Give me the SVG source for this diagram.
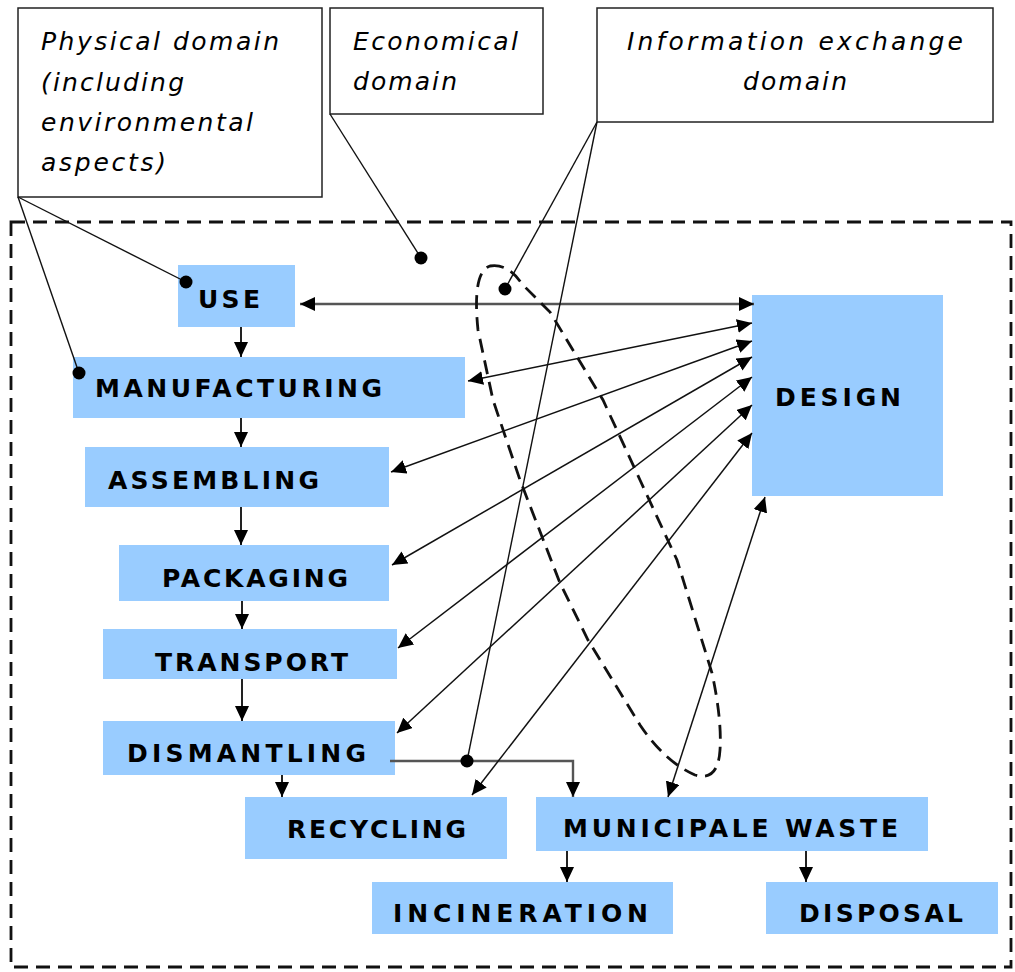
<svg xmlns="http://www.w3.org/2000/svg" width="1015" height="972" viewBox="0 0 1015 972">
<defs>
<style>
.node{fill:#99CCFF;stroke:none}
.lbl{font-family:"DejaVu Sans","Liberation Sans",sans-serif;font-size:25px;font-weight:bold;fill:#000}
.note{font-family:"DejaVu Sans","Liberation Sans",sans-serif;font-style:italic;font-size:25px;fill:#000}
.callout{fill:#fff;stroke:#222;stroke-width:1.5}
.lead{stroke:#111;stroke-width:1.4;fill:none}
.con{stroke:#111;stroke-width:1.5;fill:none}
.thick{stroke:#555;stroke-width:2.4;fill:none}
.vert{stroke:#222;stroke-width:2;fill:none}
.dash{stroke:#111;stroke-width:2.8;fill:none;stroke-dasharray:14 8}
.dot{fill:#000}
</style>
<marker id="ah" markerUnits="userSpaceOnUse" markerWidth="15" markerHeight="14" refX="15" refY="7" orient="auto-start-reverse">
<path d="M0,0 L15,7 L0,14 Z" fill="#000"/>
</marker>
</defs>
<rect width="1015" height="972" fill="#fff"/>

<!-- outer dashed frame -->
<rect id="frame" x="11" y="222" width="1000" height="745" class="dash"/>

<!-- callouts -->
<g id="physical">
<rect class="callout" x="18" y="8" width="304" height="189"/>
<text class="note" x="41" y="50" textLength="238" lengthAdjust="spacing">Physical domain</text>
<text class="note" x="41" y="91" textLength="143" lengthAdjust="spacing">(including</text>
<text class="note" x="41" y="131" textLength="212" lengthAdjust="spacing">environmental</text>
<text class="note" x="41" y="171" textLength="125" lengthAdjust="spacing">aspects)</text>
</g>
<g id="economical">
<rect class="callout" x="330" y="8" width="213" height="106"/>
<text class="note" x="353" y="50" textLength="165" lengthAdjust="spacing">Economical</text>
<text class="note" x="353" y="90" textLength="104" lengthAdjust="spacing">domain</text>
</g>
<g id="information">
<rect class="callout" x="597" y="8" width="396" height="114"/>
<text class="note" x="627" y="50" textLength="336" lengthAdjust="spacing">Information exchange</text>
<text class="note" x="743" y="90" textLength="104" lengthAdjust="spacing">domain</text>
</g>

<!-- nodes -->
<g id="use"><rect class="node" x="178" y="265" width="117" height="62"/><text class="lbl" x="198" y="308" textLength="62" lengthAdjust="spacing">USE</text></g>
<g id="manufacturing"><rect class="node" x="73" y="357" width="392" height="61"/><text class="lbl" x="95" y="397" textLength="287" lengthAdjust="spacing">MANUFACTURING</text></g>
<g id="assembling"><rect class="node" x="85" y="447" width="304" height="60"/><text class="lbl" x="108" y="489" textLength="211" lengthAdjust="spacing">ASSEMBLING</text></g>
<g id="packaging"><rect class="node" x="119" y="545" width="270" height="56"/><text class="lbl" x="162" y="587" textLength="186" lengthAdjust="spacing">PACKAGING</text></g>
<g id="transport"><rect class="node" x="103" y="629" width="294" height="50"/><text class="lbl" x="155" y="671" textLength="193" lengthAdjust="spacing">TRANSPORT</text></g>
<g id="dismantling"><rect class="node" x="103" y="721" width="292" height="54"/><text class="lbl" x="127" y="762" textLength="239" lengthAdjust="spacing">DISMANTLING</text></g>
<g id="recycling"><rect class="node" x="245" y="797" width="262" height="62"/><text class="lbl" x="287" y="838" textLength="179" lengthAdjust="spacing">RECYCLING</text></g>
<g id="municipale"><rect class="node" x="536" y="797" width="392" height="54"/><text class="lbl" x="563" y="837" textLength="335" lengthAdjust="spacing">MUNICIPALE WASTE</text></g>
<g id="incineration"><rect class="node" x="372" y="882" width="301" height="52"/><text class="lbl" x="393" y="922" textLength="255" lengthAdjust="spacing">INCINERATION</text></g>
<g id="disposal"><rect class="node" x="766" y="882" width="232" height="52"/><text class="lbl" x="799" y="922" textLength="164" lengthAdjust="spacing">DISPOSAL</text></g>
<g id="design"><rect class="node" x="752" y="295" width="191" height="201"/><text class="lbl" x="775" y="406" textLength="126" lengthAdjust="spacing">DESIGN</text></g>

<!-- connectors -->
<g id="connectors">
<line class="vert" x1="241" y1="327" x2="241" y2="357" marker-end="url(#ah)"/>
<line class="vert" x1="241" y1="418" x2="241" y2="447" marker-end="url(#ah)"/>
<line class="vert" x1="241" y1="507" x2="241" y2="545" marker-end="url(#ah)"/>
<line class="vert" x1="242" y1="601" x2="242" y2="629" marker-end="url(#ah)"/>
<line class="vert" x1="242" y1="679" x2="242" y2="721" marker-end="url(#ah)"/>
<line class="vert" x1="282" y1="775" x2="282" y2="797" marker-end="url(#ah)"/>
<polyline class="thick" points="390,761 573,761 573,797" marker-end="url(#ah)"/>
<line class="vert" x1="567" y1="851" x2="567" y2="882" marker-end="url(#ah)"/>
<line class="vert" x1="806" y1="851" x2="806" y2="882" marker-end="url(#ah)"/>

<line class="thick" x1="300" y1="304" x2="754" y2="304" marker-start="url(#ah)" marker-end="url(#ah)"/>
<line class="con" x1="468" y1="381" x2="752" y2="323" marker-start="url(#ah)" marker-end="url(#ah)"/>
<line class="con" x1="391" y1="472" x2="752" y2="341" marker-start="url(#ah)" marker-end="url(#ah)"/>
<line class="con" x1="392" y1="565" x2="752" y2="357" marker-start="url(#ah)" marker-end="url(#ah)"/>
<line class="con" x1="398" y1="648" x2="752" y2="377" marker-start="url(#ah)" marker-end="url(#ah)"/>
<line class="con" x1="397" y1="733" x2="752" y2="405" marker-start="url(#ah)" marker-end="url(#ah)"/>
<line class="con" x1="472" y1="795" x2="752" y2="433" marker-start="url(#ah)" marker-end="url(#ah)"/>
<line class="con" x1="668" y1="797" x2="765" y2="497" marker-start="url(#ah)" marker-end="url(#ah)"/>

<path class="dash" d="M490,266 Q508,263 522,284 L550,312 L603,400 L640,480 L677,560 L712,673 Q722,720 720,750 Q718,782 695,775 Q665,762 640,725 L588,640 L560,583 L520,480 L493,400 L478,330 Q472,272 490,266 Z"/>

<line class="lead" x1="18" y1="197" x2="186" y2="282"/>
<line class="lead" x1="18" y1="197" x2="79" y2="373"/>
<line class="lead" x1="330" y1="114" x2="421" y2="258"/>
<line class="lead" x1="597" y1="122" x2="505" y2="289"/>
<line class="lead" x1="597" y1="122" x2="467" y2="761"/>
<circle class="dot" cx="186" cy="282" r="6.5"/>
<circle class="dot" cx="79" cy="373" r="6.5"/>
<circle class="dot" cx="421" cy="258" r="6.5"/>
<circle class="dot" cx="505" cy="289" r="6.5"/>
<circle class="dot" cx="467" cy="761" r="6.5"/>
</g>
</svg>
